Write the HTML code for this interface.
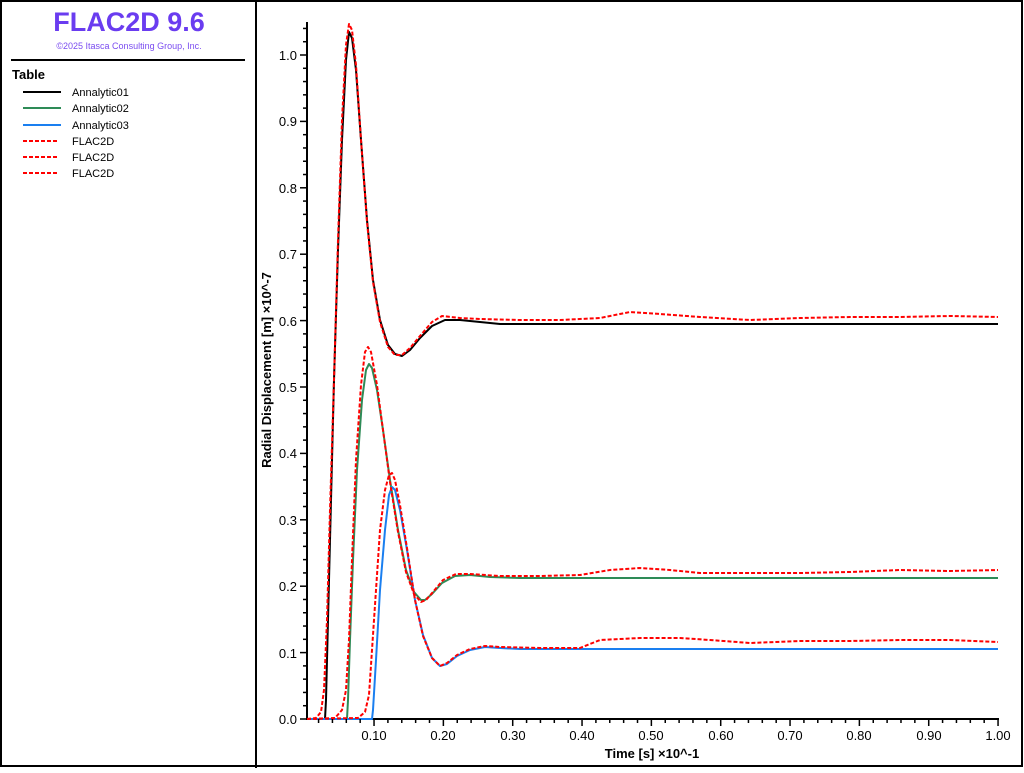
<!DOCTYPE html>
<html><head><meta charset="utf-8"><style>
html,body{margin:0;padding:0;background:#fff;}
body{width:1024px;height:768px;overflow:hidden;font-family:"Liberation Sans",sans-serif;}
</style></head><body>
<svg width="1024" height="768" xmlns="http://www.w3.org/2000/svg" font-family="Liberation Sans, sans-serif">
<rect x="1" y="1" width="1021" height="765" fill="#fff" stroke="#000" stroke-width="2"/>
<line x1="256" y1="0" x2="256" y2="768" stroke="#000" stroke-width="2"/>
<text x="129" y="31" text-anchor="middle" font-size="27" font-weight="bold" fill="#6a3cf0">FLAC2D 9.6</text>
<text x="129" y="49" text-anchor="middle" font-size="9" fill="#7a4cf0">©2025 Itasca Consulting Group, Inc.</text>
<line x1="11" y1="60" x2="245" y2="60" stroke="#000" stroke-width="2"/>
<text x="12" y="79" font-size="13" font-weight="bold">Table</text>
<g font-size="11">
<line x1="23" y1="92" x2="61" y2="92" stroke="#000" stroke-width="2"/><text x="72" y="96">Annalytic01</text>
<line x1="23" y1="108" x2="61" y2="108" stroke="#2e8b57" stroke-width="2"/><text x="72" y="112">Annalytic02</text>
<line x1="23" y1="125" x2="61" y2="125" stroke="#1a7ff0" stroke-width="2"/><text x="72" y="129">Annalytic03</text>
<line x1="23" y1="141" x2="57" y2="141" stroke="#f00" stroke-width="2" stroke-dasharray="4,2"/><text x="72" y="145">FLAC2D</text>
<line x1="23" y1="157" x2="57" y2="157" stroke="#f00" stroke-width="2" stroke-dasharray="4,2"/><text x="72" y="161">FLAC2D</text>
<line x1="23" y1="173" x2="57" y2="173" stroke="#f00" stroke-width="2" stroke-dasharray="4,2"/><text x="72" y="177">FLAC2D</text>
</g>
<!-- axes -->
<g stroke="#000" stroke-width="2">
<line x1="307" y1="22" x2="307" y2="720"/>
<line x1="306" y1="719" x2="999" y2="719"/>
</g>
<g id="ticks" stroke="#000" stroke-width="1.5">
<script type="text/javascript">//</script>
</g>
<g font-size="13" text-anchor="end">
<text x="297" y="724">0.0</text><text x="297" y="658">0.1</text><text x="297" y="591">0.2</text><text x="297" y="525">0.3</text><text x="297" y="458">0.4</text><text x="297" y="392">0.5</text><text x="297" y="326">0.6</text><text x="297" y="259">0.7</text><text x="297" y="193">0.8</text><text x="297" y="126">0.9</text><text x="297" y="60">1.0</text>
</g>
<g font-size="13" text-anchor="middle">
<text x="374" y="740">0.10</text><text x="443" y="740">0.20</text><text x="513" y="740">0.30</text><text x="582" y="740">0.40</text><text x="651" y="740">0.50</text><text x="721" y="740">0.60</text><text x="790" y="740">0.70</text><text x="859" y="740">0.80</text><text x="929" y="740">0.90</text><text x="998" y="740">1.00</text>
</g>
<text x="652" y="758" text-anchor="middle" font-size="13" font-weight="bold">Time [s]  ×10^-1</text>
<text transform="translate(271,370) rotate(-90)" text-anchor="middle" font-size="13" font-weight="bold">Radial Displacement  [m]  ×10^-7</text>
<g fill="none" stroke-width="2" stroke-linejoin="round">
<polyline stroke="#000" points="307,719 325,719 326,700 328,620 331,500 334,380 338,250 342,140 346,60 349,32 352,38 356,70 361,140 367,220 373,280 380,320 388,345 395,354 402,356 410,350 420,338 432,326 445,320 460,320 480,322 500,324 520,324 998,324"/>
<polyline stroke="#2e8b57" points="307,719 347,719 348,700 350,640 353,560 357,470 362,400 366,370 369,364 372,368 377,390 383,430 390,480 398,530 406,570 414,592 421,600 425,600 432,594 442,583 455,576 470,575 490,577 520,578 998,578"/>
<polyline stroke="#1a7ff0" points="307,719 372,719 373,710 376,660 380,590 385,530 389,495 392,487 395,490 400,510 407,550 415,600 423,635 432,658 440,666 447,664 457,656 470,650 485,647 500,648 520,649 998,649"/>
<g stroke="#f00" stroke-dasharray="4,2">
<polyline points="307,719 316,718 321,712 324,690 327,620 330,510 334,380 338,240 342,120 346,45 349,24 352,30 356,65 361,140 367,222 373,282 380,322 388,347 395,355 402,355 410,348 420,336 432,322 442,316 460,318 480,319 520,320 560,320 600,318 630,312 660,314 700,317 750,320 800,318 850,317 900,317 950,316 998,317"/>
<polyline points="307,719 335,718 342,710 346,690 349,640 352,560 356,460 361,385 365,352 368,347 371,352 377,385 383,430 390,482 398,532 406,572 414,594 421,602 426,600 433,592 443,580 456,574 470,574 500,576 540,576 580,575 610,570 640,568 670,570 700,573 750,573 800,573 850,572 900,570 950,571 998,570"/>
<polyline points="307,719 358,718 365,712 369,695 372,650 376,590 380,530 385,490 389,475 392,473 395,480 400,505 407,548 415,600 423,636 432,658 440,666 447,663 457,655 470,649 485,646 500,647 540,648 580,648 600,640 640,638 680,638 710,640 750,643 800,641 850,641 900,640 950,640 998,642"/>
</g>
</g>
<g stroke="#000" stroke-width="1.5" id="tk"></g>
</svg>
<script>
var g=document.getElementById('tk'),ns='http://www.w3.org/2000/svg';
function L(a,b,c,d){var l=document.createElementNS(ns,'line');l.setAttribute('x1',a);l.setAttribute('y1',b);l.setAttribute('x2',c);l.setAttribute('y2',d);g.appendChild(l);}
for(var i=0;i<=52;i++){var y=719-i*13.28;if(y<22)break;var maj=i%5==0;L(maj?300:303,y,307,y);}
for(var i=1;i<=50;i++){var x=304.7+i*13.867;if(x>999)break;var maj=i%5==0;L(x,719,x,maj?726:723);}
</script>
</body></html>
